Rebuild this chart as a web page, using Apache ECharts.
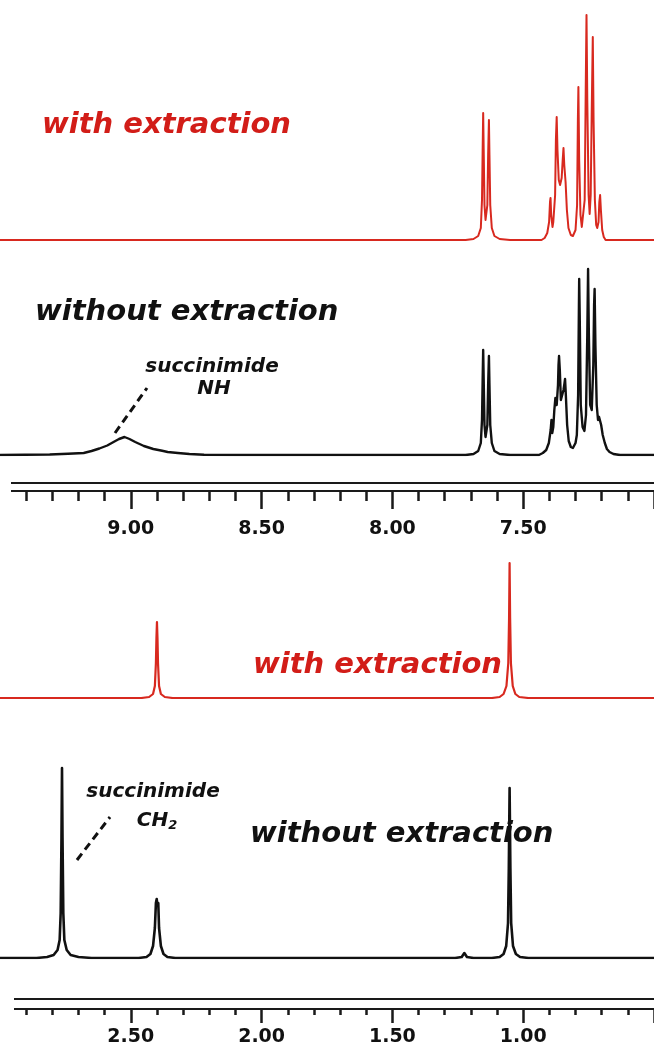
<!DOCTYPE html>
<html>
<head>
<meta charset="utf-8">
<script src="https://cdn.jsdelivr.net/npm/echarts/dist/echarts.min.js"></script>
<style>
html,body{margin:0;padding:0;background:#fff;}
#chart{width:654px;height:1048px;}
</style>
</head>
<body>
<div id="chart"></div>
<script>
// ---- data: [ppm, intensity] trace points ----
var topRedTrace = [
  [9.50,0],[7.72,0],[7.690,1],[7.672,4],[7.662,12],[7.6575,40],[7.655,90],[7.653,127],[7.651,90],[7.648,35],[7.644,20],[7.641,20],[7.637,35],[7.634,85],[7.631,120],[7.629,85],[7.626,35],[7.620,12],[7.610,4],[7.590,1],[7.55,0],
  [7.43,0],[7.418,2],[7.408,7],[7.401,18],[7.3975,38],[7.3955,42],[7.393,25],[7.388,13],[7.385,18],[7.378,45],[7.375,100],[7.372,123],[7.369,90],[7.364,60],[7.359,55],[7.353,62],[7.349,80],[7.346,92],[7.343,75],[7.338,58],[7.333,30],[7.327,12],[7.318,5],[7.310,4],[7.300,10],[7.294,35],[7.291,120],[7.289,153],[7.286,80],[7.281,25],[7.276,13],[7.271,15],[7.265,40],[7.261,150],[7.258,225],[7.255,140],[7.250,45],[7.246,26],[7.242,45],[7.238,130],[7.234,203],[7.231,120],[7.226,40],[7.221,15],[7.217,12],[7.212,18],[7.209,38],[7.206,45],[7.203,30],[7.198,10],[7.192,3],[7.185,0],[7.00,0]
];
var topBlackTrace = [
  [9.50,0],[9.31,0.5],[9.24,1.2],[9.18,2],[9.15,4],[9.12,6.5],[9.09,9.5],[9.066,13],[9.045,16],[9.024,18],[9.005,16],[8.983,13],[8.95,9],[8.914,6],[8.88,4.2],[8.859,3],[8.82,2],[8.776,1],[8.72,0.3],[8.6,0],
  [7.72,0],[7.690,1],[7.672,4],[7.662,12],[7.6575,35],[7.655,75],[7.653,105],[7.651,75],[7.648,30],[7.644,18],[7.641,18],[7.637,30],[7.634,70],[7.631,99],[7.629,70],[7.626,30],[7.620,12],[7.610,4],[7.590,1],[7.55,0],
  [7.44,0],[7.425,2],[7.412,5],[7.402,12],[7.395,25],[7.392,35],[7.389,22],[7.385,28],[7.381,45],[7.377,57],[7.372,50],[7.367,70],[7.365,90],[7.363,99],[7.360,85],[7.356,55],[7.352,55],[7.346,65],[7.342,72],[7.340,76],[7.337,60],[7.332,30],[7.326,14],[7.318,8],[7.310,7],[7.300,12],[7.295,20],[7.290,60],[7.287,150],[7.286,176],[7.284,140],[7.280,50],[7.273,28],[7.266,24],[7.260,40],[7.255,120],[7.252,186],[7.249,120],[7.244,50],[7.238,45],[7.232,90],[7.229,150],[7.227,166],[7.224,110],[7.219,50],[7.214,35],[7.210,38],[7.206,40],[7.202,30],[7.196,20],[7.188,12],[7.180,6],[7.170,3],[7.155,1],[7.13,0],[7.00,0]
];
var botRedTrace = [
  [3.0,0],[2.46,0],[2.43,1],[2.415,4],[2.408,12],[2.404,35],[2.402,60],[2.400,76],[2.398,60],[2.396,35],[2.392,12],[2.385,4],[2.37,1],[2.34,0],
  [1.12,0],[1.09,1],[1.075,4],[1.064,12],[1.057,35],[1.054,80],[1.052,135],[1.050,80],[1.047,35],[1.040,12],[1.030,4],[1.015,1],[0.98,0],[0.5,0]
];
var botBlackTrace = [
  [3.0,0],[2.86,0],[2.82,1],[2.795,3],[2.780,8],[2.772,18],[2.768,45],[2.765,120],[2.763,190],[2.761,120],[2.758,45],[2.754,18],[2.745,8],[2.73,3],[2.70,1],[2.65,0],
  [2.47,0],[2.44,1],[2.425,4],[2.415,12],[2.408,30],[2.404,55],[2.401,59],[2.398,52],[2.395,55],[2.392,30],[2.385,12],[2.375,4],[2.36,1],[2.33,0],
  [1.26,0],[1.235,1],[1.225,5],[1.215,1],[1.19,0],
  [1.12,0],[1.09,1],[1.075,4],[1.065,12],[1.058,35],[1.055,90],[1.052,170],[1.049,90],[1.046,35],[1.039,12],[1.028,4],[1.012,1],[0.98,0],[0.5,0]
];
var topRange = [7.0, 9.5];
var botRange = [0.5, 3.0];
var tickStep = 0.5;
var labelWith = 'with extraction';
var labelWithout = 'without extraction';
var noteTop = ['succinimide', 'NH'];
var noteBot = ['succinimide', 'CH'];

// ---- styling ----
var RED = '#d8291f', TXT_RED = '#d21d18', BLK = '#111111';
var FONT = '"DejaVu Sans", "Liberation Sans", sans-serif';

function specX(grid, range) {
  return {gridIndex: grid, type: 'value', min: range[0], max: range[1], inverse: true, show: false};
}
function axisLineOnly(grid, range) {
  return {gridIndex: grid, type: 'value', min: range[0], max: range[1], inverse: true, position: 'bottom',
    axisLine: {show: true, lineStyle: {color: '#1a1a1a', width: 2}}, axisTick: {show: false},
    axisLabel: {show: false}, splitLine: {show: false}};
}
function axisTicks(grid, range, off, major, minor, margin) {
  return {gridIndex: grid, type: 'value', min: range[0], max: range[1], inverse: true, position: 'bottom',
    interval: tickStep, offset: off,
    axisLine: {show: true, lineStyle: {color: '#1a1a1a', width: 2}},
    axisTick: {show: true, length: major, lineStyle: {color: '#1a1a1a', width: 2.5}},
    minorTick: {show: true, splitNumber: 5, length: minor, lineStyle: {color: '#1a1a1a', width: 2.5}},
    axisLabel: {margin: margin, fontSize: 19, fontWeight: 'bold', fontFamily: FONT, color: '#111',
      showMinLabel: false, showMaxLabel: false, formatter: function (v) { return v.toFixed(2); }},
    splitLine: {show: false}, minorSplitLine: {show: false}};
}
function yAx(grid, max) {
  return {gridIndex: grid, type: 'value', min: 0, max: max, show: false};
}
function line(xi, yi, data, color, w) {
  return {type: 'line', xAxisIndex: xi, yAxisIndex: yi, data: data, showSymbol: false, symbol: 'none',
    clip: true, lineStyle: {color: color, width: w, join: 'round'}, silent: true};
}
function txt(x, y, s, color, size, align) {
  return {type: 'text', x: x, y: y, z: 50, style: {text: s, fill: color, font: 'italic bold ' + size + 'px ' + FONT,
    textAlign: align || 'left', textVerticalAlign: 'middle'}};
}

var chart = echarts.init(document.getElementById('chart'), null, {renderer: 'canvas'});
chart.setOption({
  backgroundColor: '#fff',
  animation: false,
  grid: [
    {left: -43, right: -29, top: 0, height: 240},
    {left: -43, right: -29, top: 255, height: 200},
    {left: -43, right: -29, top: 475, height: 8},
    {left: -15, right: -121, top: 540, height: 158},
    {left: -15, right: -121, top: 758, height: 200},
    {left: -15, right: -121, top: 990, height: 9}
  ],
  xAxis: [
    specX(0, topRange), specX(1, topRange),
    axisLineOnly(2, topRange), axisTicks(2, topRange, 8, 18, 10, 29),
    specX(3, botRange), specX(4, botRange),
    axisLineOnly(5, botRange), axisTicks(5, botRange, 10, 14, 6, 19)
  ],
  yAxis: [yAx(0, 240), yAx(1, 200), yAx(2, 1), yAx(3, 158), yAx(4, 200), yAx(5, 1)],
  series: [
    line(0, 0, topRedTrace, RED, 2),
    line(1, 1, topBlackTrace, BLK, 2.4),
    line(4, 3, botRedTrace, RED, 2.2),
    line(5, 4, botBlackTrace, BLK, 2.6)
  ],
  graphic: [
    {type: 'rect', z: 100, shape: {x: 0, y: 476, width: 11, height: 40}, style: {fill: '#fff'}},
    {type: 'rect', z: 100, shape: {x: 0, y: 992, width: 14, height: 35}, style: {fill: '#fff'}},
    txt(42, 125, labelWith, TXT_RED, 29),
    txt(35, 312, labelWithout, BLK, 29),
    txt(212, 367, noteTop[0], BLK, 20, 'center'),
    txt(214, 389, noteTop[1], BLK, 20, 'center'),
    {type: 'line', z: 50, shape: {x1: 115, y1: 433, x2: 147, y2: 388},
      style: {stroke: BLK, lineWidth: 3, lineDash: [8, 5]}},
    txt(253, 665, labelWith, TXT_RED, 29),
    txt(250, 834, labelWithout, BLK, 29),
    txt(153, 792, noteBot[0], BLK, 20, 'center'),
    {type: 'text', x: 157, y: 821, z: 50, style: {text: noteBot[1] + '{s|2}', fill: BLK,
      font: 'italic bold 20px ' + FONT, textAlign: 'center', textVerticalAlign: 'middle',
      rich: {s: {fontSize: 13, fontWeight: 'bold', fontStyle: 'italic', fontFamily: FONT, fill: BLK, padding: [10, 0, 0, 0]}}}},
    {type: 'line', z: 50, shape: {x1: 77, y1: 860, x2: 110, y2: 817},
      style: {stroke: BLK, lineWidth: 3, lineDash: [8, 5]}}
  ]
});
</script>
</body>
</html>
